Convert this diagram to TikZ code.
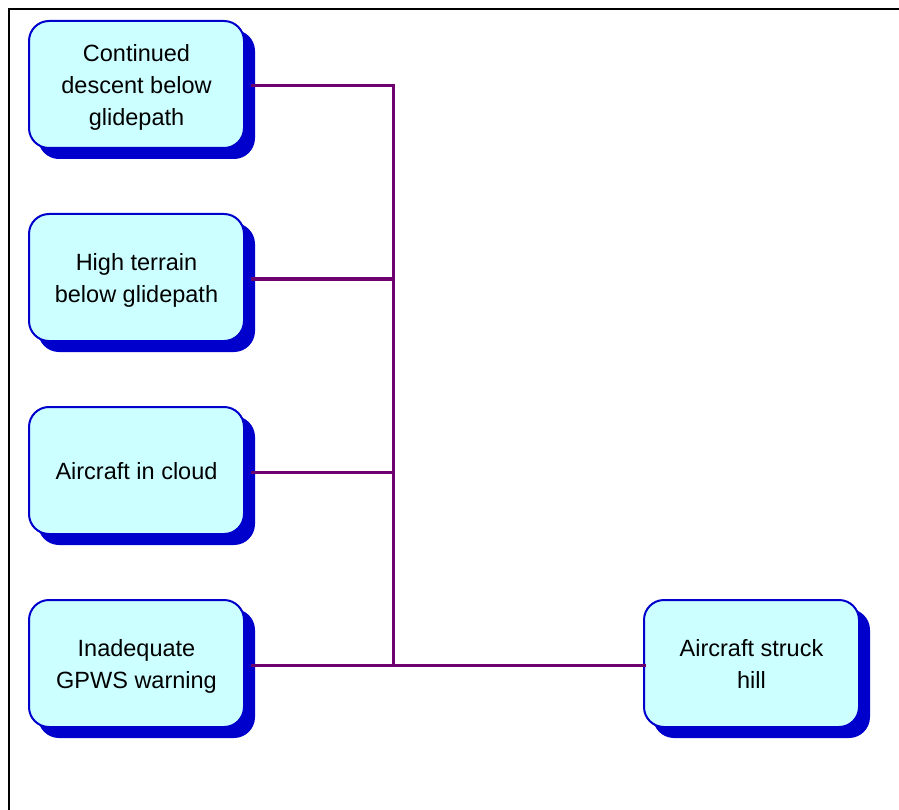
\documentclass[tikz,border=0pt]{standalone}
\usepackage{fontspec}
\setmainfont{Liberation Sans}
\usetikzlibrary{shadows}
\definecolor{boxfill}{HTML}{CCFFFF}
\definecolor{boxline}{HTML}{0000CC}
\definecolor{linkcol}{HTML}{6E0070}
\tikzset{
  event/.style={draw=boxline, line width=2pt, fill=boxfill, rounded corners=20pt,
    minimum width=215pt, minimum height=127pt, align=center, inner sep=0pt,
    text depth=-5pt,
    font=\fontsize{23.5}{32}\selectfont,
    copy shadow={shadow xshift=10pt, shadow yshift=-10pt, fill=boxline, draw=boxline}},
  link/.style={draw=linkcol, line width=3pt},
  frame/.style={draw=black, line width=2pt}
}
\begin{document}
\begin{tikzpicture}[x=1pt, y=-1pt]
  \useasboundingbox (0,0) rectangle (899,810);
  % page frame (top and left edges only)
  \draw[frame] (9,810) -- (9,9) -- (899,9);

  % causes
  \node[event] (c1) at (136.5,84.5) {Continued\\descent below\\glidepath};
  \node[event] (c2) at (136.5,277.5) {High terrain\\below glidepath};
  \node[event] (c3) at (136.5,470.5) {Aircraft in cloud};
  \node[event] (c4) at (136.5,663.5) {Inadequate\\GPWS warning};
  % outcome
  \node[event] (hit) at (751.5,663.5) {Aircraft struck\\hill};

  % collecting bar: top corner and junction
  \coordinate (top) at (393,86);
  \coordinate (j) at (393,665);

  \draw[link] ([xshift=6pt]c1.east |- top) -- (top) -- (j);
  \draw[link] ([xshift=6pt,yshift=-1.5pt]c2.east) -- ([yshift=-1.5pt]c2.east -| j);
  \draw[link] ([xshift=6pt,yshift=-1.5pt]c3.east) -- ([yshift=-1.5pt]c3.east -| j);
  \draw[link] ([xshift=6pt]c4.east |- j) -- ([xshift=3pt]hit.west |- j);
\end{tikzpicture}
\end{document}
